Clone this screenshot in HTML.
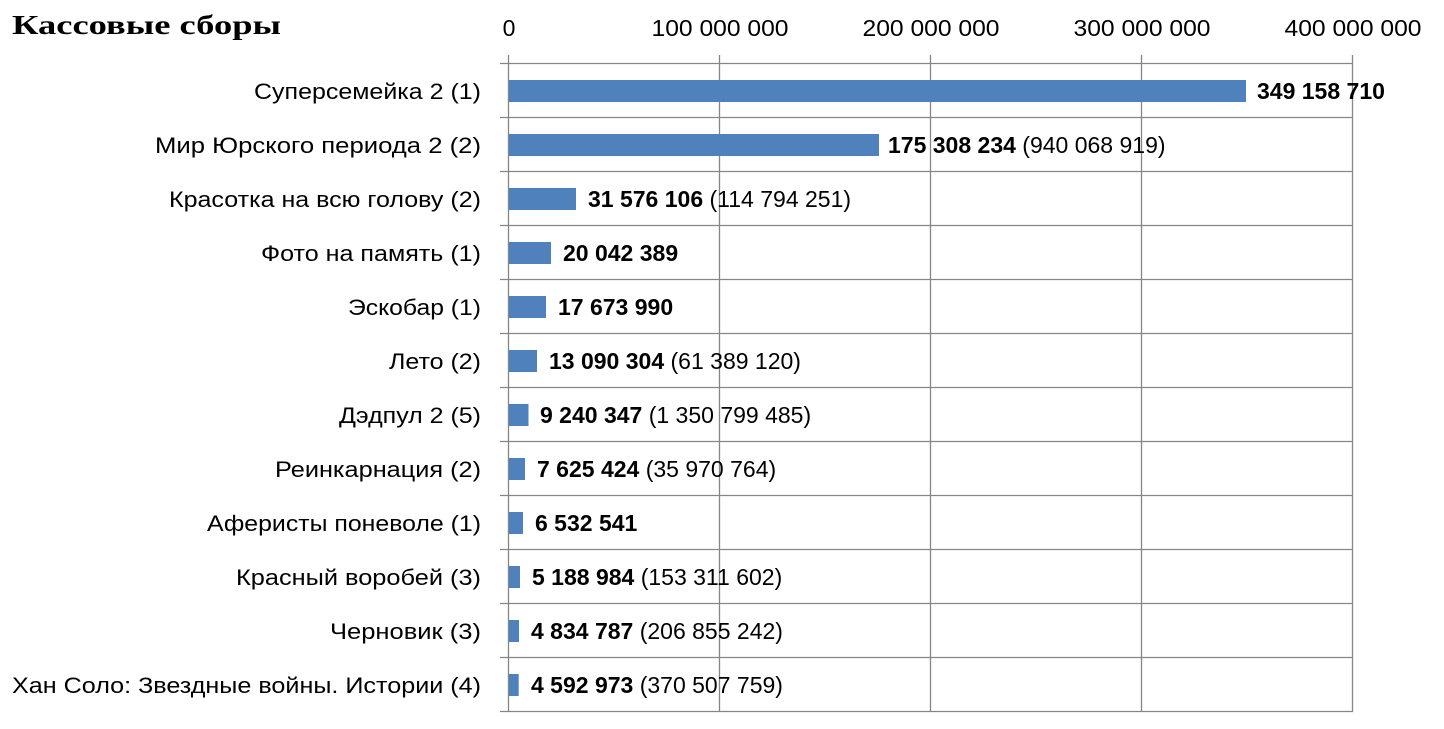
<!DOCTYPE html>
<html><head><meta charset="utf-8"><style>
html,body{margin:0;padding:0;background:#fff;}
svg{display:block;}
</style></head><body>
<svg width="1444" height="729" xmlns="http://www.w3.org/2000/svg" font-family="'Liberation Sans', sans-serif">
<text x="12" y="34" font-family="'Liberation Serif', serif" font-weight="bold" font-size="27" textLength="269" lengthAdjust="spacingAndGlyphs">Кассовые сборы</text>
<g font-size="23" fill="#000" text-anchor="middle">
<text x="509" y="36">0</text>
<text x="720" y="36" textLength="137" lengthAdjust="spacingAndGlyphs">100 000 000</text>
<text x="931" y="36" textLength="137" lengthAdjust="spacingAndGlyphs">200 000 000</text>
<text x="1142" y="36" textLength="137" lengthAdjust="spacingAndGlyphs">300 000 000</text>
<text x="1353" y="36" textLength="137" lengthAdjust="spacingAndGlyphs">400 000 000</text>
</g>
<g stroke="#868686" stroke-width="1.3">
<line x1="508.5" y1="55" x2="508.5" y2="712"/>
<line x1="719.5" y1="55" x2="719.5" y2="712"/>
<line x1="930.5" y1="55" x2="930.5" y2="712"/>
<line x1="1141.5" y1="55" x2="1141.5" y2="712"/>
<line x1="1352.5" y1="55" x2="1352.5" y2="712"/>
<line x1="500" y1="63.5" x2="1353" y2="63.5"/>
<line x1="500" y1="117.5" x2="1353" y2="117.5"/>
<line x1="500" y1="171.5" x2="1353" y2="171.5"/>
<line x1="500" y1="225.5" x2="1353" y2="225.5"/>
<line x1="500" y1="279.5" x2="1353" y2="279.5"/>
<line x1="500" y1="333.5" x2="1353" y2="333.5"/>
<line x1="500" y1="387.5" x2="1353" y2="387.5"/>
<line x1="500" y1="441.5" x2="1353" y2="441.5"/>
<line x1="500" y1="495.5" x2="1353" y2="495.5"/>
<line x1="500" y1="549.5" x2="1353" y2="549.5"/>
<line x1="500" y1="603.5" x2="1353" y2="603.5"/>
<line x1="500" y1="657.5" x2="1353" y2="657.5"/>
<line x1="500" y1="711.5" x2="1353" y2="711.5"/>
</g>
<g fill="#4f81bd">
<rect x="509" y="80" width="737" height="22"/>
<rect x="509" y="134" width="370" height="22"/>
<rect x="509" y="188" width="67" height="22"/>
<rect x="509" y="242" width="42" height="22"/>
<rect x="509" y="296" width="37" height="22"/>
<rect x="509" y="350" width="28" height="22"/>
<rect x="509" y="404" width="19.5" height="22"/>
<rect x="509" y="458" width="16" height="22"/>
<rect x="509" y="512" width="14" height="22"/>
<rect x="509" y="566" width="11" height="22"/>
<rect x="509" y="620" width="10" height="22"/>
<rect x="509" y="674" width="9.7" height="22"/>
</g>
<g font-size="22" text-anchor="end" fill="#000">
<text x="481" y="99" textLength="227" lengthAdjust="spacingAndGlyphs">Суперсемейка 2 (1)</text>
<text x="481" y="153" textLength="326" lengthAdjust="spacingAndGlyphs">Мир Юрского периода 2 (2)</text>
<text x="481" y="207" textLength="312" lengthAdjust="spacingAndGlyphs">Красотка на всю голову (2)</text>
<text x="481" y="261" textLength="220" lengthAdjust="spacingAndGlyphs">Фото на память (1)</text>
<text x="481" y="315" textLength="133" lengthAdjust="spacingAndGlyphs">Эскобар (1)</text>
<text x="481" y="369" textLength="92" lengthAdjust="spacingAndGlyphs">Лето (2)</text>
<text x="481" y="423" textLength="142" lengthAdjust="spacingAndGlyphs">Дэдпул 2 (5)</text>
<text x="481" y="477" textLength="206" lengthAdjust="spacingAndGlyphs">Реинкарнация (2)</text>
<text x="481" y="531" textLength="274" lengthAdjust="spacingAndGlyphs">Аферисты поневоле (1)</text>
<text x="481" y="585" textLength="245" lengthAdjust="spacingAndGlyphs">Красный воробей (3)</text>
<text x="481" y="639" textLength="151" lengthAdjust="spacingAndGlyphs">Черновик (3)</text>
<text x="481" y="693" textLength="469" lengthAdjust="spacingAndGlyphs">Хан Соло: Звездные войны. Истории (4)</text>
</g>
<g font-size="23" fill="#000">
<text x="1257" y="99"><tspan font-weight="bold">349 158 710</tspan></text>
<text x="888" y="153"><tspan font-weight="bold">175 308 234</tspan> (940 068 919)</text>
<text x="588" y="207"><tspan font-weight="bold">31 576 106</tspan> (114 794 251)</text>
<text x="563" y="261"><tspan font-weight="bold">20 042 389</tspan></text>
<text x="558" y="315"><tspan font-weight="bold">17 673 990</tspan></text>
<text x="549" y="369"><tspan font-weight="bold">13 090 304</tspan> (61 389 120)</text>
<text x="540" y="423"><tspan font-weight="bold">9 240 347</tspan> (1 350 799 485)</text>
<text x="537" y="477"><tspan font-weight="bold">7 625 424</tspan> (35 970 764)</text>
<text x="535" y="531"><tspan font-weight="bold">6 532 541</tspan></text>
<text x="532" y="585"><tspan font-weight="bold">5 188 984</tspan> (153 311 602)</text>
<text x="531" y="639"><tspan font-weight="bold">4 834 787</tspan> (206 855 242)</text>
<text x="531" y="693"><tspan font-weight="bold">4 592 973</tspan> (370 507 759)</text>
</g>
</svg>
</body></html>
